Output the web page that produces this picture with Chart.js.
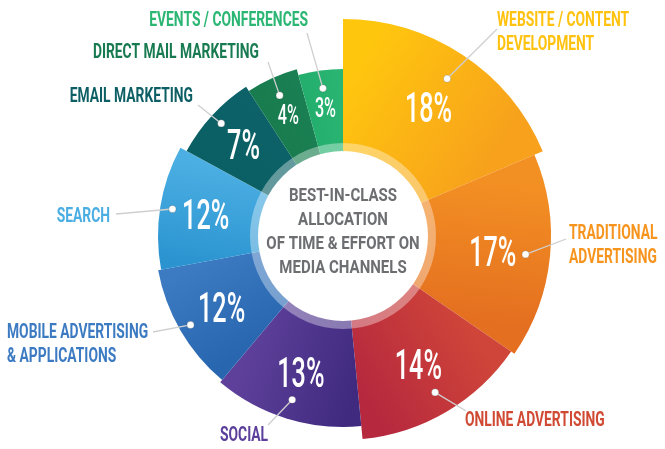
<!DOCTYPE html>
<html>
<head>
<meta charset="utf-8">
<style>
  html, body { margin: 0; padding: 0; background: #fff; }
  #contenedor { width: 665px; height: 449px; }
</style>
</head>
<body>
<div id="contenedor"><canvas id="grafico"></canvas></div>
<script src="https://cdn.jsdelivr.net/npm/chart.js"></script>
<script>
    // Canales (sentido horario desde las 12), con sus líneas de texto
    const canales = [
        ['WEBSITE / CONTENT', 'DEVELOPMENT'],
        ['TRADITIONAL', 'ADVERTISING'],
        ['ONLINE ADVERTISING'],
        ['SOCIAL'],
        ['MOBILE ADVERTISING', '& APPLICATIONS'],
        ['SEARCH'],
        ['EMAIL MARKETING'],
        ['DIRECT MAIL MARKETING'],
        ['EVENTS / CONFERENCES']
    ];
    const porcentajes = [18, 17, 14, 13, 12, 12, 7, 4, 3];
    // amplitud de cada sector tal como aparece dibujado (grados)
    const amplitudes = [67, 57.5, 50, 45.5, 39.5, 39, 28.5, 17.5, 15.5];
    // alcance exterior de cada sector (escala radial 0-213)
    const alcances = [217, 208, 204, 191, 188, 185, 178, 173, 167];
    const tituloCentro = ['BEST-IN-CLASS', 'ALLOCATION', 'OF TIME & EFFORT ON', 'MEDIA CHANNELS'];

    // Estilos
    const colores = [
        ['#ffc60e', '#f7a11c'],
        ['#f39023', '#e46f20'],
        ['#cf4539', '#b6283e'],
        ['#3f2a7f', '#5e409a'],
        ['#2867b0', '#3c7ac1'],
        ['#2b94d0', '#4cafe3'],
        ['#0a5f64', '#0c6268'],
        ['#187c4f', '#1a7f52'],
        ['#24ae6d', '#2ab573']
    ];
    const coloresTexto = ['#ffc20e', '#f7941d', '#d04a33', '#5b3f9b', '#3c7bc2', '#4baee3', '#0d5f65', '#187a50', '#2bb673'];
    const FUENTE = 'Roboto, "DejaVu Sans", sans-serif';

    // Colocación de los rótulos exteriores: ancla del texto y final de la guía
    const posRotulos = [
        { x: 497, y: 26, alinear: 'left',  fx: 497, fy: 29 },
        { x: 569, y: 239, alinear: 'left', fx: 566, fy: 239 },
        { x: 465, y: 426, alinear: 'left', fx: 466, fy: 411 },
        { x: 220, y: 441, alinear: 'left', fx: 268, fy: 425 },
        { x: 7,   y: 338, alinear: 'left', fx: 153, fy: 332 },
        { x: 110, y: 222, alinear: 'right', fx: 116, fy: 214 },
        { x: 193, y: 102, alinear: 'right', fx: 198, fy: 105 },
        { x: 259, y: 58,  alinear: 'right', fx: 268, fy: 62 },
        { x: 308, y: 26,  alinear: 'right', fx: 307, fy: 33 }
    ];

    const RADIO_BLANCO = 85;
    const RADIO_ANILLO = 93;
    const CONDENSAR_PCT = 0.6;

    function escribir(ctx, txt, x, y, fuente, color, alinear, sx) {
        ctx.save();
        ctx.font = fuente;
        ctx.fillStyle = color;
        ctx.textBaseline = 'alphabetic';
        ctx.textAlign = alinear;
        ctx.translate(x, y);
        ctx.scale(sx, 1);
        ctx.fillText(txt, 0, 0);
        ctx.restore();
    }

    // Degradado de cada sector, de un borde al otro
    function relleno(c) {
        const i = c.dataIndex;
        const area = c.chart.chartArea;
        if (!area) return colores[i][0];
        const cx = (area.left + area.right) / 2, cy = (area.top + area.bottom) / 2;
        let a0 = -Math.PI / 2;
        for (let k = 0; k < i; k++) a0 += amplitudes[k] * Math.PI / 180;
        const a1 = a0 + amplitudes[i] * Math.PI / 180;
        const r = 150;
        const g = c.chart.ctx.createLinearGradient(cx + r * Math.cos(a0), cy + r * Math.sin(a0),
                                                   cx + r * Math.cos(a1), cy + r * Math.sin(a1));
        g.addColorStop(0, colores[i][0]);
        g.addColorStop(1, colores[i][1]);
        return g;
    }

    const rotulos = {
        id: 'rotulos',
        afterDatasetsDraw(chart) {
            const ctx = chart.ctx;
            const escala = chart.scales.r;
            const cx = escala.xCenter, cy = escala.yCenter;

            // anillo translúcido y círculo central
            ctx.save();
            ctx.beginPath();
            ctx.arc(cx, cy, RADIO_ANILLO, 0, Math.PI * 2);
            ctx.fillStyle = 'rgba(255,255,255,0.36)';
            ctx.fill();
            ctx.beginPath();
            ctx.arc(cx, cy, RADIO_BLANCO, 0, Math.PI * 2);
            ctx.fillStyle = '#ffffff';
            ctx.fill();
            ctx.restore();

            tituloCentro.forEach((linea, k) => {
                escribir(ctx, linea, cx, cy - 35 + k * 24, 'bold 19px ' + FUENTE, '#6d6e71', 'center', 0.79);
            });

            const meta = chart.getDatasetMeta(0);
            meta.data.forEach((arco, i) => {
                const p = arco.getProps(['startAngle', 'endAngle', 'outerRadius'], true);
                const medio = (p.startAngle + p.endAngle) / 2;
                const cos = Math.cos(medio), sin = Math.sin(medio);

                // porcentaje
                const rp = (RADIO_ANILLO + p.outerRadius) / 2;
                const chico = porcentajes[i] < 5;
                const tam = chico ? 27 : 42;
                const fuentePct = '500 ' + tam + 'px ' + FUENTE;
                const txt = porcentajes[i] + '%';
                escribir(ctx, txt, cx + rp * cos, cy + rp * sin + tam * 0.36,
                         fuentePct, '#ffffff', 'center', CONDENSAR_PCT);

                // guía y punto, justo fuera del porcentaje
                ctx.font = fuentePct;
                const semiAncho = ctx.measureText(txt).width * CONDENSAR_PCT / 2;
                const semiAlto = tam * 0.36;
                const rd = rp + Math.abs(cos) * semiAncho + Math.abs(sin) * semiAlto + 8;
                const dx = cx + rd * cos, dy = cy + rd * sin;
                const pos = posRotulos[i];
                ctx.save();
                ctx.strokeStyle = '#cfcfcf';
                ctx.lineWidth = 1.3;
                ctx.beginPath();
                ctx.moveTo(dx, dy);
                ctx.lineTo(pos.fx, pos.fy);
                ctx.stroke();
                ctx.beginPath();
                ctx.arc(dx, dy, 3.6, 0, Math.PI * 2);
                ctx.fillStyle = '#ffffff';
                ctx.fill();
                ctx.strokeStyle = 'rgba(0,0,0,0.18)';
                ctx.lineWidth = 1;
                ctx.stroke();
                ctx.restore();

                // texto del canal
                canales[i].forEach((linea, k) => {
                    escribir(ctx, linea, pos.x, pos.y + k * 24, 'bold 19.5px ' + FUENTE,
                             coloresTexto[i], pos.alinear, 0.71);
                });
            });
        }
    };

    function crearGrafico() {
        const ctx = document.getElementById('grafico').getContext('2d');
        new Chart(ctx, {
            type: 'polarArea',
            data: {
                labels: canales.map(l => l.join(' ')),
                datasets: [{
                    data: alcances,
                    angle: c => amplitudes[c.dataIndex],
                    backgroundColor: relleno,
                    borderWidth: 0
                }]
            },
            options: {
                responsive: true,
                maintainAspectRatio: false,
                animation: false,
                layout: { padding: { left: 21, right: 0, top: 23, bottom: 0 } },
                plugins: { legend: { display: false }, tooltip: { enabled: false } },
                scales: {
                    r: { display: false, min: 0, max: 213, startAngle: 0 }
                }
            },
            plugins: [rotulos]
        });
    }

    document.addEventListener('DOMContentLoaded', crearGrafico);
</script>
</body>
</html>
